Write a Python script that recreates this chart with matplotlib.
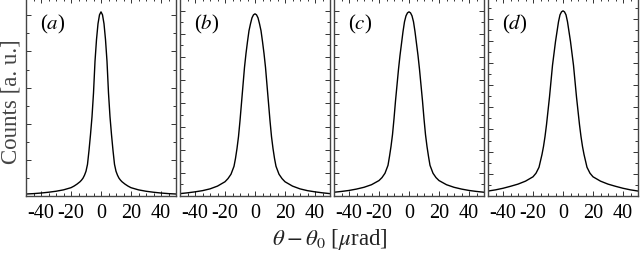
import matplotlib
matplotlib.use("Agg")
import matplotlib.pyplot as plt
from matplotlib.ticker import MultipleLocator

plt.rcParams['font.family'] = ['Liberation Serif', 'DejaVu Serif']
plt.rcParams['mathtext.fontset'] = 'stix'

# angle offset (microrad)
theta = [-50, -45, -40, -35, -30, -25, -20, -18, -16, -14, -13, -12, -11, -10, -9, -8, -7, -6, -5,
         -4, -3, -2, -1, 0, 1, 2, 3, 4, 5, 6, 7, 8, 9, 10, 11, 12, 13, 14, 16, 18, 20,
         25, 30, 35, 40, 45, 50]

counts_a = [0.010, 0.012, 0.015, 0.019, 0.024, 0.031, 0.042, 0.050, 0.060, 0.072, 0.080, 0.090, 0.105,
            0.125, 0.160, 0.230, 0.310, 0.400, 0.520, 0.680, 0.790, 0.870, 0.915, 0.930,
            0.915, 0.870, 0.790, 0.680, 0.520, 0.400, 0.310, 0.230, 0.160, 0.125, 0.105, 0.090,
            0.080, 0.072, 0.060, 0.050, 0.042, 0.031, 0.024, 0.019, 0.015, 0.012, 0.010]

counts_b = [0.012, 0.016, 0.021, 0.027, 0.036, 0.050, 0.072, 0.088, 0.110, 0.150, 0.190, 0.240, 0.300,
            0.380, 0.470, 0.560, 0.650, 0.720, 0.780, 0.835, 0.870, 0.900, 0.915, 0.920,
            0.915, 0.900, 0.870, 0.835, 0.780, 0.720, 0.650, 0.560, 0.470, 0.380, 0.300, 0.240,
            0.190, 0.150, 0.110, 0.088, 0.072, 0.050, 0.036, 0.027, 0.021, 0.016, 0.012]

counts_c = [0.019, 0.023, 0.028, 0.035, 0.044, 0.057, 0.078, 0.093, 0.115, 0.155, 0.200, 0.250, 0.310,
            0.390, 0.480, 0.560, 0.640, 0.710, 0.770, 0.830, 0.880, 0.910, 0.925, 0.930,
            0.925, 0.910, 0.880, 0.830, 0.770, 0.710, 0.640, 0.560, 0.480, 0.390, 0.310, 0.250,
            0.200, 0.155, 0.115, 0.093, 0.078, 0.057, 0.044, 0.035, 0.028, 0.023, 0.019]

counts_d = [0.025, 0.031, 0.039, 0.049, 0.060, 0.075, 0.097, 0.115, 0.145, 0.210, 0.250, 0.300, 0.360,
            0.430, 0.500, 0.580, 0.660, 0.720, 0.780, 0.830, 0.880, 0.915, 0.930, 0.935,
            0.930, 0.915, 0.880, 0.830, 0.780, 0.720, 0.660, 0.580, 0.500, 0.430, 0.360, 0.300,
            0.250, 0.210, 0.145, 0.115, 0.097, 0.075, 0.060, 0.049, 0.039, 0.031, 0.025]

panels = ['a', 'b', 'c', 'd']
series = [counts_a, counts_b, counts_c, counts_d]
ytick_step = [0.1825, 0.117, 0.117, 0.112]
xticks = [-40, -20, 0, 20, 40]
xlabels = ['-40', '-20', '0', '20', '40']

fig = plt.figure(figsize=(6.4, 2.55), dpi=100)
lefts = [26, 180, 334, 488]

for i in range(4):
    ax = fig.add_axes([lefts[i] / 640, 58 / 255, 150 / 640, 198 / 255])
    ax.plot(theta, series[i], color='black', lw=1.0)
    ax.set_xlim(-50, 50)
    ax.set_ylim(0, 1.0)
    ax.set_xticks(xticks)
    ax.set_xticklabels(xlabels)
    ax.xaxis.set_minor_locator(MultipleLocator(5))
    ax.yaxis.set_major_locator(MultipleLocator(ytick_step[i]))
    ax.yaxis.set_minor_locator(MultipleLocator(ytick_step[i] / 2))
    ax.set_yticklabels([])
    ax.tick_params(which='both', direction='in', top=True, right=True, labelsize=14.5,
                   width=0.7, color='#333333')
    ax.tick_params(which='major', length=3.5)
    ax.tick_params(which='minor', length=2)
    ax.tick_params(axis='x', pad=5)
    for s in ax.spines.values():
        s.set_linewidth(1.0)
        s.set_color('#444444')
    ax.text(0.09, 0.87, '($' + panels[i] + '$)', transform=ax.transAxes,
            fontsize=15, va='center', ha='left')

fig.text(0.017, 0.60, 'Counts [a. u.]', rotation=90, fontsize=16.5,
         ha='center', va='center', color='#444444')
fig.text(0.516, 0.06, r'$\theta-\theta_0$ [$\mu$rad]', fontsize=16.5,
         ha='center', va='center', color='#222222')

fig.savefig('out.png', dpi=100)
